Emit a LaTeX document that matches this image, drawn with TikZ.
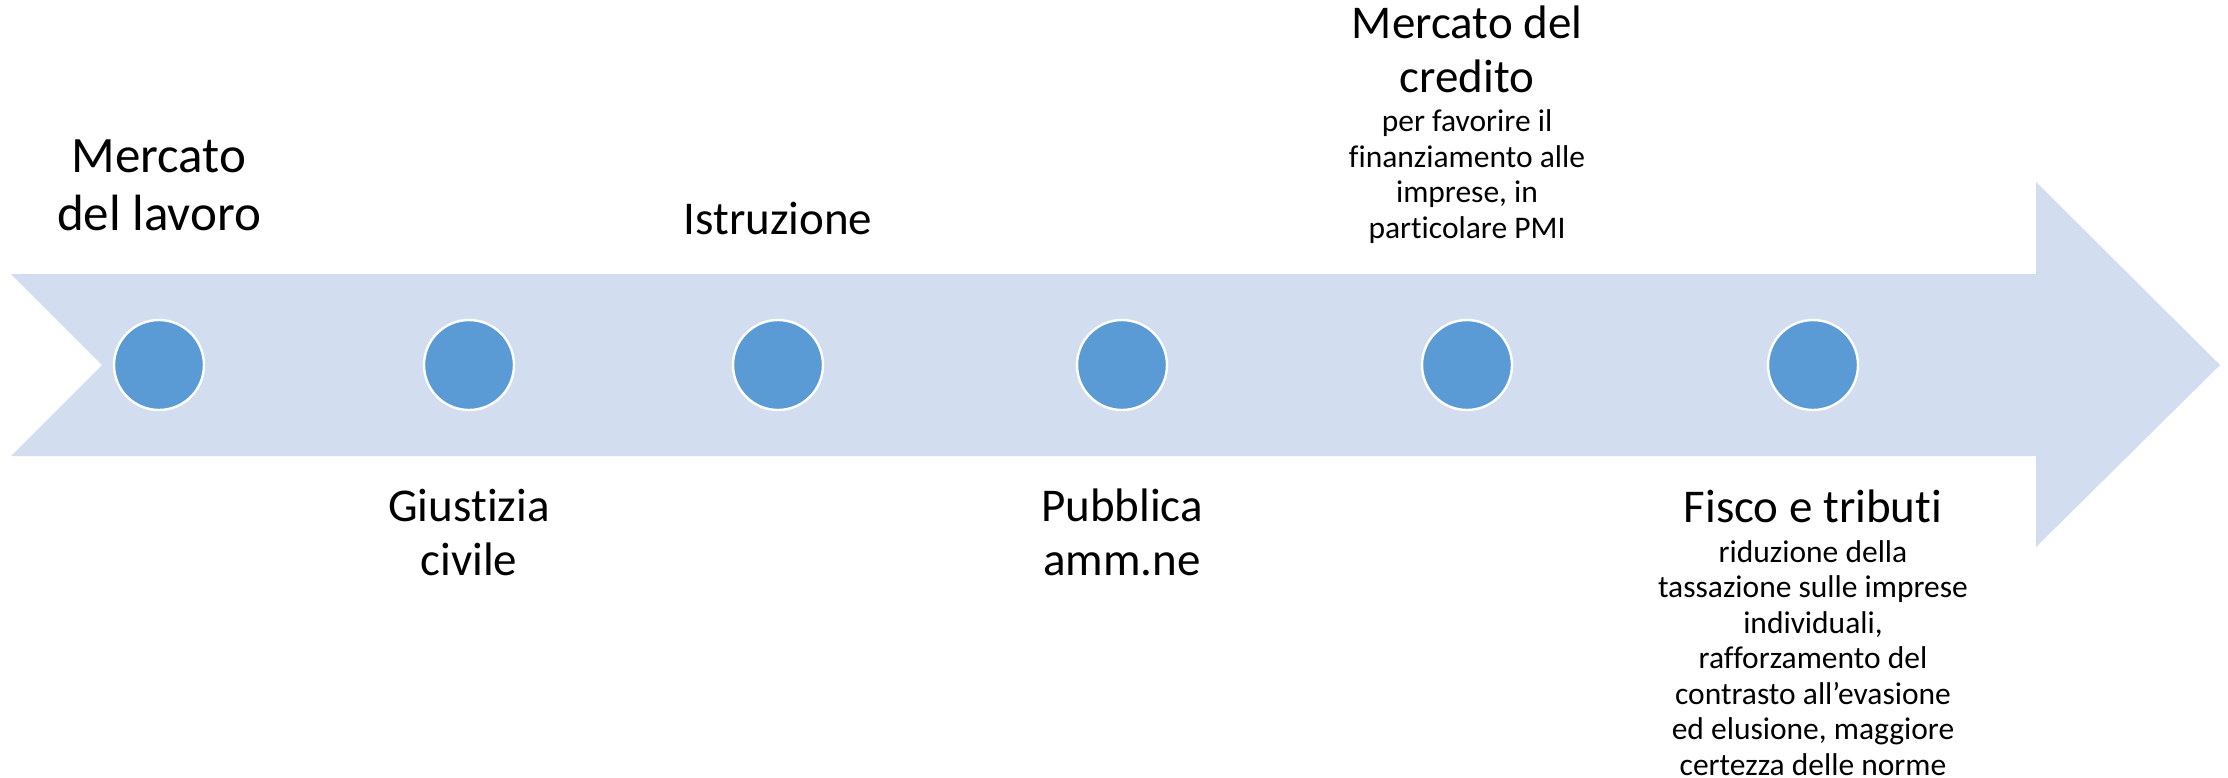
\documentclass[tikz,border=0pt]{standalone}
\usepackage{fontspec}
\setmainfont{Carlito}[Ligatures=CommonOff]
\definecolor{fondo}{HTML}{D2DEEF}
\definecolor{punto}{HTML}{5B9BD5}

\begin{document}
\begin{tikzpicture}[x=0.5pt,y=-0.5pt,
  tappa/.style={circle, fill=punto, draw=white, line width=1.2pt, minimum size=45pt, inner sep=0pt},
  titolo/.style={align=center, anchor=base, inner sep=0pt, font=\fontsize{23.5}{26.75}\selectfont},
  nota/.style={align=center, anchor=base, inner sep=0pt, font=\fontsize{15.75}{17.75}\selectfont}]
\useasboundingbox (0,0) rectangle (2228,777);

\fill [fondo] (11,274) -- (2036,274) -- (2036,182) -- (2220,365) -- (2036,547)
  -- (2036,456) -- (11,456) -- (102,365) -- cycle;

\foreach \x/\n in {159/a, 469/b, 778/c, 1122/d, 1467/e, 1813/f}
  \node [tappa] (\n) at (\x,365) {};

\node [titolo, font=\fontsize{25.5}{29}\selectfont] (lavoro) at (159,230) {Mercato\\del lavoro};
\node [titolo] (giustizia) at (469,575) {Giustizia\\civile};
\node [titolo] (istruzione) at (778,234) {Istruzione};
\node [titolo] (pa) at (1122,575) {Pubblica\\amm.ne};
\node [titolo] (credito) at (1467,92) {Mercato del\\credito};
\node [nota] (credito-nota) at (1467,238) {per favorire il\\finanziamento alle\\imprese, in\\particolare PMI};
\node [titolo] (fisco) at (1813,522) {Fisco e tributi};
\node [nota] (fisco-nota) at (1813,775) {riduzione della\\tassazione sulle imprese\\individuali,\\rafforzamento del\\contrasto all’evasione\\ed elusione, maggiore\\certezza delle norme};

\end{tikzpicture}
\end{document}
